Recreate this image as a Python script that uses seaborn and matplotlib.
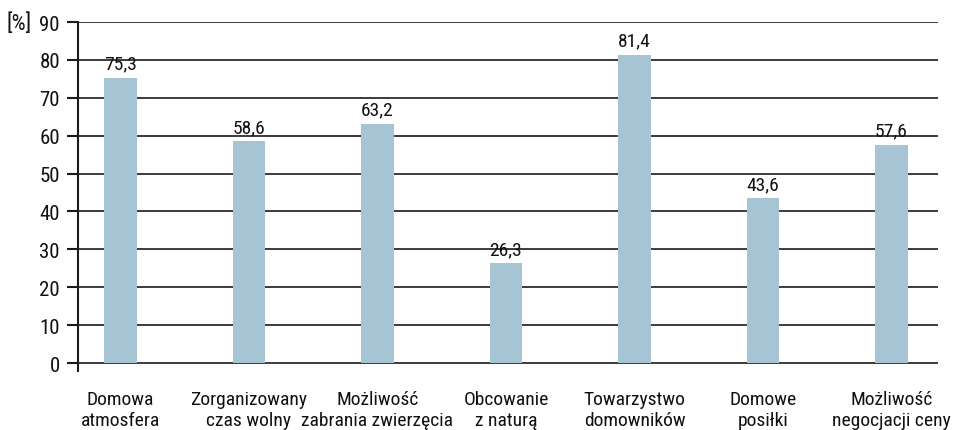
import matplotlib
matplotlib.use("Agg")
import matplotlib.pyplot as plt
import seaborn as sns
import pandas as pd

categories = ["Domowa\natmosfera", "Zorganizowany\nczas wolny", "Możliwość\nzabrania zwierzęcia",
              "Obcowanie\nz naturą", "Towarzystwo\ndomowników", "Domowe\nposiłki",
              "Możliwość\nnegocjacji ceny"]
values = [75.3, 58.6, 63.2, 26.3, 81.4, 43.6, 57.6]
yticks = [0, 10, 20, 30, 40, 50, 60, 70, 80, 90]

sns.set_theme(style="white")
plt.rcParams['font.family'] = ['Roboto Condensed', 'DejaVu Sans']

df = pd.DataFrame({"cat": categories, "val": values})

FS = 14
fig = plt.figure(figsize=(9.54, 4.31), dpi=100)
ax = fig.add_axes([0.0818, 0.1378, 0.983 - 0.0818, 0.9466 - 0.1378])
ax.set_axisbelow(True)
sns.barplot(data=df, x="cat", y="val", color="#a7c4d5", saturation=1, width=0.25,
            linewidth=0, ax=ax, zorder=3)

ax.set_ylim(-2, 90)
ax.set_xlim(-0.33, 6.36)
ax.set_yticks(yticks)
ax.set_yticklabels([str(t) for t in yticks], fontsize=15)
ax.yaxis.grid(True, color="#1a1a1a", linewidth=1.2)
ax.xaxis.grid(False)
for s in ["top", "right", "bottom"]:
    ax.spines[s].set_visible(False)
ax.spines["left"].set_color("#1a1a1a")
ax.spines["left"].set_linewidth(1.5)
ax.tick_params(axis="y", which="major", left=True, length=8, width=1.5, color="#1a1a1a", pad=5, labelcolor="#111111")
ax.tick_params(axis="x", bottom=False, pad=8, labelsize=FS, labelcolor="#111111")
ax.set_xlabel("")
ax.set_ylabel("")

for i, v in enumerate(values):
    ax.text(i, v + 1.3, f"{v:.1f}".replace(".", ","), ha="center", va="bottom", fontsize=FS, color="#111111")

fig.text(7 / 954, 1 - 24 / 431, "[%]", ha="left", va="center", fontsize=16, color="#111111")

fig.savefig("out.png", dpi=100)
